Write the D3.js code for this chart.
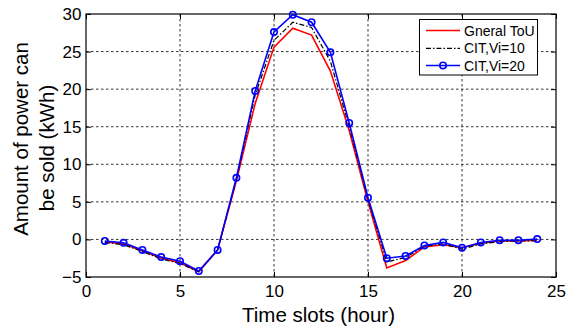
<!DOCTYPE html>
<html><head><meta charset="utf-8">
<script src="https://cdn.jsdelivr.net/npm/d3@7"></script>
<style>body{margin:0;background:#fff}svg{display:block;font-family:"Liberation Sans",Arial,sans-serif}</style>
</head><body><svg id="c" width="567" height="330"></svg>
<script>
const hours = [1,2,3,4,5,6,7,8,9,10,11,12,13,14,15,16,17,18,19,20,21,22,23,24];
const generalToU = [-0.3,-0.6,-1.5,-2.5,-3.1,-4.3,-1.4,7.8,18.1,25.6,28.1,27.2,22.4,14.5,5.0,-3.8,-2.8,-1.0,-0.7,-1.1,-0.5,-0.2,-0.2,-0.1];
const citVi10 = [-0.4,-0.7,-1.6,-2.6,-3.2,-4.3,-1.4,8.0,19.2,26.5,28.9,28.2,23.7,15.0,5.3,-3.0,-2.4,-0.9,-0.6,-1.3,-0.6,-0.3,-0.2,-0.2];
const citVi20 = [-0.2,-0.45,-1.4,-2.35,-2.9,-4.2,-1.4,8.2,19.75,27.6,29.9,28.9,24.9,15.5,5.55,-2.5,-2.2,-0.8,-0.4,-1.1,-0.4,-0.1,-0.1,0.05];
const xTicks = [0,5,10,15,20,25];
const yTicks = [-5,0,5,10,15,20,25,30];
const seriesNames = ["Gneral ToU","CIT,Vi=10","CIT,Vi=20"];

const svg = d3.select("#c");
const L=86, R=556, T=14, B=277;
const x = d3.scaleLinear().domain([0,25]).range([L,R]);
const y = d3.scaleLinear().domain([-5,30]).range([B,T]);

// grid
const g = svg.append("g");
g.selectAll(".gx").data(xTicks.slice(1,-1)).join("line")
  .attr("x1",d=>x(d)).attr("x2",d=>x(d)).attr("y1",T).attr("y2",B)
  .attr("stroke","#000").attr("stroke-width",0.8).attr("stroke-dasharray","2.5,2.5");
g.selectAll(".gy").data(yTicks.slice(1,-1)).join("line")
  .attr("y1",d=>y(d)).attr("y2",d=>y(d)).attr("x1",L).attr("x2",R)
  .attr("stroke","#000").attr("stroke-width",0.8).attr("stroke-dasharray","2.5,2.5");

// axes
const ax = svg.append("g").attr("transform",`translate(0,${B})`)
  .call(d3.axisBottom(x).tickValues(xTicks).tickSize(-5).tickPadding(8.4).tickFormat(d3.format("d")));
const ay = svg.append("g").attr("transform",`translate(${L},0)`)
  .call(d3.axisLeft(y).tickValues(yTicks).tickSize(-5).tickPadding(4.5).tickFormat(d3.format("d")));
const axT = svg.append("g").attr("transform",`translate(0,${T})`)
  .call(d3.axisTop(x).tickValues(xTicks).tickSize(-5).tickFormat(""));
const ayR = svg.append("g").attr("transform",`translate(${R},0)`)
  .call(d3.axisRight(y).tickValues(yTicks).tickSize(-5).tickFormat(""));
[ax,ay,axT,ayR].forEach(a=>{
  a.select(".domain").remove();
  a.selectAll("line").attr("stroke","#000");
  a.selectAll("text").attr("font-size",17).attr("fill","#000").attr("font-family","Liberation Sans, Arial, sans-serif");
});
svg.append("rect").attr("x",L).attr("y",T).attr("width",R-L).attr("height",B-T)
  .attr("fill","none").attr("stroke","#000").attr("stroke-width",1.2);

// lines
const line = vals => d3.line().x((d,i)=>x(hours[i])).y(d=>y(d))(vals);
svg.append("path").attr("d",line(generalToU)).attr("fill","none").attr("stroke","#ff0000").attr("stroke-width",1.6);
svg.append("path").attr("d",line(citVi10)).attr("fill","none").attr("stroke","#000").attr("stroke-width",1.2).attr("stroke-dasharray","5,2,1.5,2");
svg.append("path").attr("d",line(citVi20)).attr("fill","none").attr("stroke","#0000ff").attr("stroke-width",1.6);
svg.selectAll(".pt").data(citVi20).join("circle")
  .attr("cx",(d,i)=>x(hours[i])).attr("cy",d=>y(d)).attr("r",3.2)
  .attr("fill","none").attr("stroke","#0000ff").attr("stroke-width",1.6);

// labels
svg.append("text").attr("x",318.5).attr("y",322.4).attr("text-anchor","middle")
  .attr("font-size",20.5).text("Time slots (hour)");
svg.append("text").attr("transform",`translate(27.5,139) rotate(-90)`)
  .attr("text-anchor","middle").attr("font-size",20.5).text("Amount of power can");
svg.append("text").attr("transform",`translate(53.5,148) rotate(-90)`)
  .attr("text-anchor","middle").attr("font-size",20.5).text("be sold (kWh)");

// legend
const lg = svg.append("g");
lg.append("rect").attr("x",419.5).attr("y",19.5).attr("width",118).attr("height",55.5)
  .attr("fill","#fff").attr("stroke","#000").attr("stroke-width",1);
const rows = [30.5,48.3,65.5];
const styles = [
  {c:"#ff0000",w:1.6,da:null,m:false},
  {c:"#000",w:1.2,da:"5,2,1.5,2",m:false},
  {c:"#0000ff",w:1.6,da:null,m:true}];
seriesNames.forEach((n,i)=>{
  const s=styles[i];
  const l=lg.append("line").attr("x1",426).attr("x2",460).attr("y1",rows[i]).attr("y2",rows[i])
    .attr("stroke",s.c).attr("stroke-width",s.w);
  if(s.da) l.attr("stroke-dasharray",s.da);
  if(s.m) lg.append("circle").attr("cx",443).attr("cy",rows[i]).attr("r",3.2).attr("fill","none").attr("stroke",s.c).attr("stroke-width",1.6);
  lg.append("text").attr("x",464).attr("y",rows[i]+5).attr("font-size",14).text(n);
});
</script></body></html>
